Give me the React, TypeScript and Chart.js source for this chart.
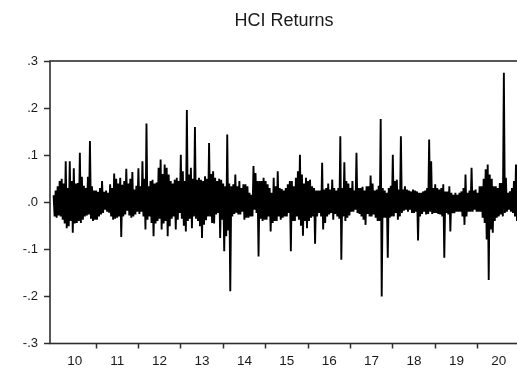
import React, { useEffect, useRef } from "react";
import { Chart, registerables } from "chart.js";

Chart.register(...registerables);

// Daily HCI returns, summarised per ~2-day column: upper and lower extremes per column, one array per year
const hi2010 = [0.015, 0.025, 0.034, 0.045, 0.050, 0.040, 0.087, 0.030, 0.087, 0.045, 0.072, 0.040, 0.041, 0.105, 0.054, 0.035, 0.030, 0.054, 0.130, 0.034, 0.025];
const lo2010 = [-0.030, -0.033, -0.028, -0.030, -0.037, -0.045, -0.055, -0.051, -0.040, -0.065, -0.045, -0.044, -0.040, -0.044, -0.037, -0.030, -0.028, -0.026, -0.035, -0.040, -0.037];
const hi2011 = [0.025, 0.022, 0.030, 0.045, 0.022, 0.025, 0.020, 0.038, 0.030, 0.061, 0.050, 0.040, 0.052, 0.037, 0.045, 0.071, 0.040, 0.050, 0.064, 0.027, 0.035];
const lo2011 = [-0.037, -0.030, -0.026, -0.023, -0.016, -0.020, -0.022, -0.030, -0.037, -0.035, -0.033, -0.030, -0.074, -0.030, -0.026, -0.018, -0.028, -0.033, -0.030, -0.026, -0.020];
const hi2012 = [0.072, 0.034, 0.087, 0.050, 0.167, 0.034, 0.045, 0.048, 0.040, 0.042, 0.073, 0.091, 0.060, 0.080, 0.073, 0.059, 0.045, 0.040, 0.048, 0.052, 0.045];
const lo2012 = [-0.025, -0.020, -0.030, -0.058, -0.037, -0.030, -0.044, -0.072, -0.045, -0.040, -0.035, -0.058, -0.045, -0.040, -0.072, -0.051, -0.035, -0.030, -0.058, -0.037, -0.023];
const hi2013 = [0.101, 0.066, 0.045, 0.196, 0.059, 0.073, 0.050, 0.160, 0.048, 0.052, 0.048, 0.045, 0.055, 0.050, 0.126, 0.060, 0.066, 0.052, 0.045, 0.050, 0.048];
const lo2013 = [-0.035, -0.050, -0.062, -0.040, -0.035, -0.055, -0.030, -0.035, -0.040, -0.051, -0.076, -0.048, -0.038, -0.030, -0.030, -0.044, -0.045, -0.026, -0.023, -0.076, -0.037];
const hi2014 = [0.040, 0.034, 0.144, 0.040, 0.034, 0.038, 0.059, 0.034, 0.045, 0.030, 0.038, 0.038, 0.034, 0.020, 0.016, 0.077, 0.062, 0.045, 0.045, 0.045, 0.052];
const lo2014 = [-0.104, -0.072, -0.060, -0.189, -0.030, -0.025, -0.022, -0.026, -0.026, -0.020, -0.037, -0.033, -0.033, -0.030, -0.030, -0.016, -0.023, -0.115, -0.035, -0.040, -0.037];
const hi2015 = [0.045, 0.038, 0.030, 0.020, 0.052, 0.034, 0.066, 0.030, 0.028, 0.025, 0.030, 0.038, 0.045, 0.045, 0.034, 0.052, 0.066, 0.101, 0.059, 0.040, 0.052];
const lo2015 = [-0.037, -0.030, -0.062, -0.044, -0.040, -0.040, -0.030, -0.037, -0.033, -0.030, -0.030, -0.023, -0.104, -0.040, -0.040, -0.030, -0.037, -0.050, -0.071, -0.040, -0.055];
const hi2016 = [0.045, 0.048, 0.034, 0.030, 0.025, 0.025, 0.025, 0.084, 0.027, 0.030, 0.040, 0.027, 0.048, 0.030, 0.025, 0.030, 0.140, 0.030, 0.085, 0.045, 0.040];
const lo2016 = [-0.040, -0.033, -0.030, -0.088, -0.030, -0.023, -0.030, -0.058, -0.044, -0.030, -0.026, -0.023, -0.037, -0.025, -0.030, -0.035, -0.122, -0.030, -0.040, -0.033, -0.028];
const hi2017 = [0.030, 0.045, 0.025, 0.105, 0.030, 0.030, 0.033, 0.025, 0.034, 0.034, 0.057, 0.040, 0.025, 0.027, 0.035, 0.177, 0.030, 0.025, 0.020, 0.030, 0.035];
const lo2017 = [-0.020, -0.020, -0.016, -0.023, -0.025, -0.030, -0.037, -0.048, -0.025, -0.030, -0.030, -0.026, -0.033, -0.040, -0.040, -0.200, -0.033, -0.033, -0.118, -0.033, -0.030];
const hi2018 = [0.101, 0.045, 0.048, 0.027, 0.140, 0.027, 0.034, 0.027, 0.025, 0.023, 0.027, 0.025, 0.023, 0.020, 0.020, 0.023, 0.025, 0.030, 0.133, 0.087, 0.030];
const lo2018 = [-0.030, -0.023, -0.037, -0.030, -0.023, -0.018, -0.016, -0.020, -0.016, -0.023, -0.023, -0.020, -0.081, -0.030, -0.025, -0.020, -0.026, -0.025, -0.020, -0.025, -0.023];
const hi2019 = [0.038, 0.030, 0.027, 0.030, 0.038, 0.023, 0.023, 0.034, 0.020, 0.016, 0.020, 0.016, 0.020, 0.023, 0.030, 0.059, 0.020, 0.025, 0.073, 0.025, 0.027];
const lo2019 = [-0.023, -0.025, -0.026, -0.030, -0.118, -0.023, -0.026, -0.062, -0.023, -0.023, -0.020, -0.020, -0.020, -0.030, -0.048, -0.030, -0.020, -0.020, -0.020, -0.016, -0.020];
const hi2020 = [0.020, 0.034, 0.034, 0.050, 0.070, 0.080, 0.059, 0.050, 0.034, 0.034, 0.030, 0.041, 0.041, 0.275, 0.052, 0.020, 0.023, 0.030, 0.045, 0.080, 0.025];
const lo2020 = [-0.020, -0.020, -0.033, -0.044, -0.079, -0.165, -0.058, -0.065, -0.040, -0.033, -0.030, -0.026, -0.030, -0.023, -0.020, -0.016, -0.020, -0.023, -0.030, -0.040, -0.023];

const years = [2010, 2011, 2012, 2013, 2014, 2015, 2016, 2017, 2018, 2019, 2020];
const highs = [hi2010, hi2011, hi2012, hi2013, hi2014, hi2015, hi2016, hi2017, hi2018, hi2019, hi2020];
const lows = [lo2010, lo2011, lo2012, lo2013, lo2014, lo2015, lo2016, lo2017, lo2018, lo2019, lo2020];

// Axis ticks
const xTickValues = [2010, 2011, 2012, 2013, 2014, 2015, 2016, 2017, 2018, 2019, 2020, 2021];
const xTickLabels = ["10", "11", "12", "13", "14", "15", "16", "17", "18", "19", "20", ""];
const yTickValues = [-0.3, -0.2, -0.1, 0, 0.1, 0.2, 0.3];
const yTickLabels = ["-.3", "-.2", "-.1", ".0", ".1", ".2", ".3"];

const TITLE = "HCI Returns";
const FONT = '"Liberation Sans", Arial, sans-serif';
const AXIS_COLOR = "#2e2e2e";
const TEXT_COLOR = "#1a1a1a";

const X_MIN = 2009.915;
const X_MAX = 2021.094;

// Interleave each column's high and low so the line sweeps the full daily range
function buildSeries() {
  const pts: { x: number; y: number }[] = [];
  years.forEach((yr, k) => {
    const hi = highs[k];
    const lo = lows[k];
    const n = hi.length;
    for (let i = 0; i < n; i++) {
      pts.push({ x: yr + i / n, y: hi[i] });
      pts.push({ x: yr + (i + 0.5) / n, y: lo[i] });
    }
  });
  return pts;
}

const framePlugin = {
  id: "frameBox",
  afterDatasetsDraw(chart: any) {
    const { ctx, chartArea: a } = chart;
    ctx.save();
    ctx.strokeStyle = AXIS_COLOR;
    ctx.lineWidth = 1.6;
    ctx.strokeRect(a.left, a.top, a.right - a.left, a.bottom - a.top);
    ctx.restore();
  },
};

const titlePlugin = {
  id: "plotTitle",
  afterDraw(chart: any) {
    const { ctx } = chart;
    ctx.save();
    ctx.font = `18px ${FONT}`;
    ctx.fillStyle = TEXT_COLOR;
    ctx.textAlign = "center";
    ctx.textBaseline = "middle";
    ctx.fillText(TITLE, 284, 21);
    ctx.restore();
  },
};

export default function App() {
  const canvasRef = useRef<HTMLCanvasElement | null>(null);

  useEffect(() => {
    if (!canvasRef.current) return;
    const chart = new Chart(canvasRef.current, {
      type: "line",
      data: {
        datasets: [
          {
            label: TITLE,
            data: buildSeries(),
            borderColor: "#000000",
            borderWidth: 1.9,
            borderJoinStyle: "miter",
            pointRadius: 0,
            tension: 0,
            fill: false,
          },
        ],
      },
      options: {
        responsive: false,
        animation: false,
        events: [],
        layout: { padding: { top: 61, right: 16, left: 0, bottom: 0 } },
        plugins: {
          legend: { display: false },
          title: { display: false },
          tooltip: { enabled: false },
        },
        scales: {
          x: {
            type: "linear",
            min: X_MIN,
            max: X_MAX,
            afterBuildTicks: (s: any) => {
              s.ticks = xTickValues.map((v) => ({ value: v }));
            },
            afterFit: (s: any) => {
              s.height = 31.5;
            },
            border: { display: false },
            grid: {
              drawOnChartArea: false,
              drawTicks: true,
              tickLength: 5,
              tickWidth: 1.5,
              tickColor: (c: any) =>
                c.tick && c.tick.value === xTickValues[0] ? "rgba(0,0,0,0)" : AXIS_COLOR,
            },
            ticks: {
              autoSkip: false,
              maxRotation: 0,
              labelOffset: 21.2,
              padding: 5,
              color: TEXT_COLOR,
              font: { family: FONT, size: 13.5 },
              callback: (_v: any, i: number) => xTickLabels[i] ?? "",
            },
          },
          y: {
            type: "linear",
            min: -0.3,
            max: 0.3,
            afterBuildTicks: (s: any) => {
              s.ticks = yTickValues.map((v) => ({ value: v }));
            },
            afterFit: (s: any) => {
              s.width = 50;
            },
            border: { display: false },
            grid: {
              drawOnChartArea: false,
              drawTicks: true,
              tickLength: 6,
              tickWidth: 1.5,
              tickColor: AXIS_COLOR,
            },
            ticks: {
              autoSkip: false,
              padding: 6,
              color: TEXT_COLOR,
              font: { family: FONT, size: 13 },
              callback: (_v: any, i: number) => yTickLabels[i] ?? "",
            },
          },
        },
      },
      plugins: [framePlugin, titlePlugin],
    });
    return () => chart.destroy();
  }, []);

  return (
    <div
      style={{
        position: "fixed",
        left: 0,
        top: 0,
        width: 517,
        height: 375,
        overflow: "hidden",
        background: "#ffffff",
      }}
    >
      <canvas ref={canvasRef} width={540} height={375} style={{ width: 540, height: 375 }} />
    </div>
  );
}
